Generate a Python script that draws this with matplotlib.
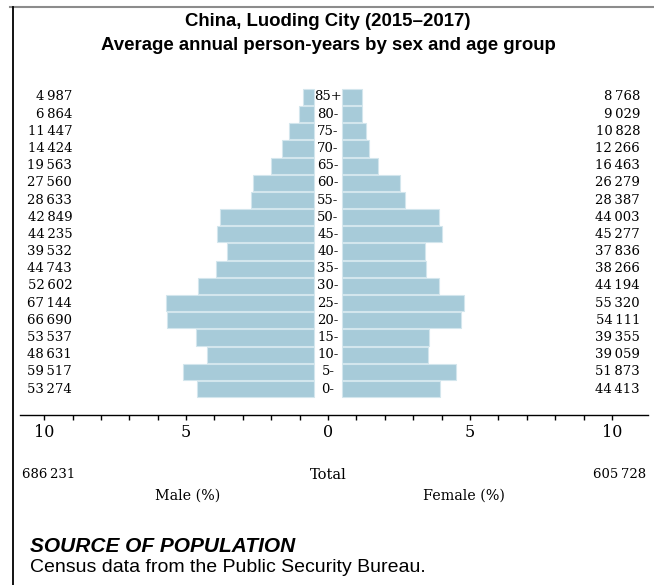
import matplotlib
matplotlib.use('Agg')
import matplotlib.pyplot as plt
from matplotlib.lines import Line2D

# age groups, bottom to top
ages = ['0-', '5-', '10-', '15-', '20-', '25-', '30-', '35-', '40-',
        '45-', '50-', '55-', '60-', '65-', '70-', '75-', '80-', '85+']
male = [53274, 59517, 48631, 53537, 66690, 67144, 52602, 44743, 39532,
        44235, 42849, 28633, 27560, 19563, 14424, 11447, 6864, 4987]
female = [44413, 51873, 39059, 39355, 54111, 55320, 44194, 38266, 37836,
          45277, 44003, 28387, 26279, 16463, 12266, 10828, 9029, 8768]
male_total = 686231
female_total = 605728
tick_vals = [-10, -5, 0, 5, 10]
tick_labels = ['10', '5', '0', '5', '10']

title1 = 'China, Luoding City (2015\u20132017)'
title2 = 'Average annual person-years by sex and age group'

bar_color = '#a7cbd9'
gap = 0.5  # room for the age labels in the middle

def fmt(n):
    return f'{n:,}'.replace(',', '\u2009')

grand = male_total + female_total
male_pct = [v / grand * 100 for v in male]
female_pct = [v / grand * 100 for v in female]
y = list(range(len(ages)))

fig = plt.figure(figsize=(6.54, 5.85), dpi=100)
ax = fig.add_axes([20 / 654, 170 / 585, 628 / 654, 327 / 585])

ax.barh(y, male_pct, left=[-gap - p for p in male_pct], height=0.94,
        color=bar_color, edgecolor='#d3e6ed', linewidth=0.8)
ax.barh(y, female_pct, left=gap, height=0.94,
        color=bar_color, edgecolor='#d3e6ed', linewidth=0.8)

serif = 'DejaVu Serif'
for i, a in enumerate(ages):
    ax.text(0, i, a, ha='center', va='center', fontsize=9.5, family=serif)
    ax.text(-9.01, i, fmt(male[i]), ha='right', va='center', fontsize=9.5, family=serif)
    ax.text(10.99, i, fmt(female[i]), ha='right', va='center', fontsize=9.5, family=serif)

ax.set_xlim(-10.85, 11.27)
ax.set_ylim(-1.513, 17.52)
ax.set_xticks(tick_vals)
ax.set_xticklabels(tick_labels, family=serif, fontsize=11.5)
ax.set_xticks(range(-10, 11), minor=True)
ax.tick_params(axis='x', which='both', length=3.5, width=1, direction='out', pad=3)
ax.set_yticks([])
for s in ['top', 'left', 'right']:
    ax.spines[s].set_visible(False)
ax.spines['bottom'].set_linewidth(1)

fig.text(328 / 654, 1 - 22 / 585, title1, ha='center', va='center', fontsize=13.4,
         fontweight='bold', family='Liberation Sans')
fig.text(328 / 654, 1 - 46 / 585, title2, ha='center', va='center', fontsize=13.4,
         fontweight='bold', family='Liberation Sans')

fig.text(22 / 654, 1 - 475 / 585, fmt(male_total), ha='left', va='center', fontsize=9.5, family=serif)
fig.text(328 / 654, 1 - 475 / 585, 'Total', ha='center', va='center', fontsize=10.5, family=serif)
fig.text(646 / 654, 1 - 475 / 585, fmt(female_total), ha='right', va='center', fontsize=9.5, family=serif)
fig.text(188 / 654, 1 - 496 / 585, 'Male (%)', ha='center', va='center', fontsize=10.3, family=serif)
fig.text(464 / 654, 1 - 496 / 585, 'Female (%)', ha='center', va='center', fontsize=10.3, family=serif)

fig.text(30 / 654, 1 - 546 / 585, 'SOURCE OF POPULATION', ha='left', va='center', fontsize=15,
         fontweight='bold', fontstyle='italic', family='Liberation Sans')
fig.text(30 / 654, 1 - 567 / 585, 'Census data from the Public Security Bureau.', ha='left',
         va='center', fontsize=14, family='Liberation Sans')

# frame
fig.add_artist(Line2D([10 / 654, 1], [1 - 6.5 / 585] * 2, color='#8c8c8c', lw=1.5))
fig.add_artist(Line2D([13 / 654] * 2, [0, 1 - 6.5 / 585], color='black', lw=1.3))

fig.savefig('out.png', dpi=100)
